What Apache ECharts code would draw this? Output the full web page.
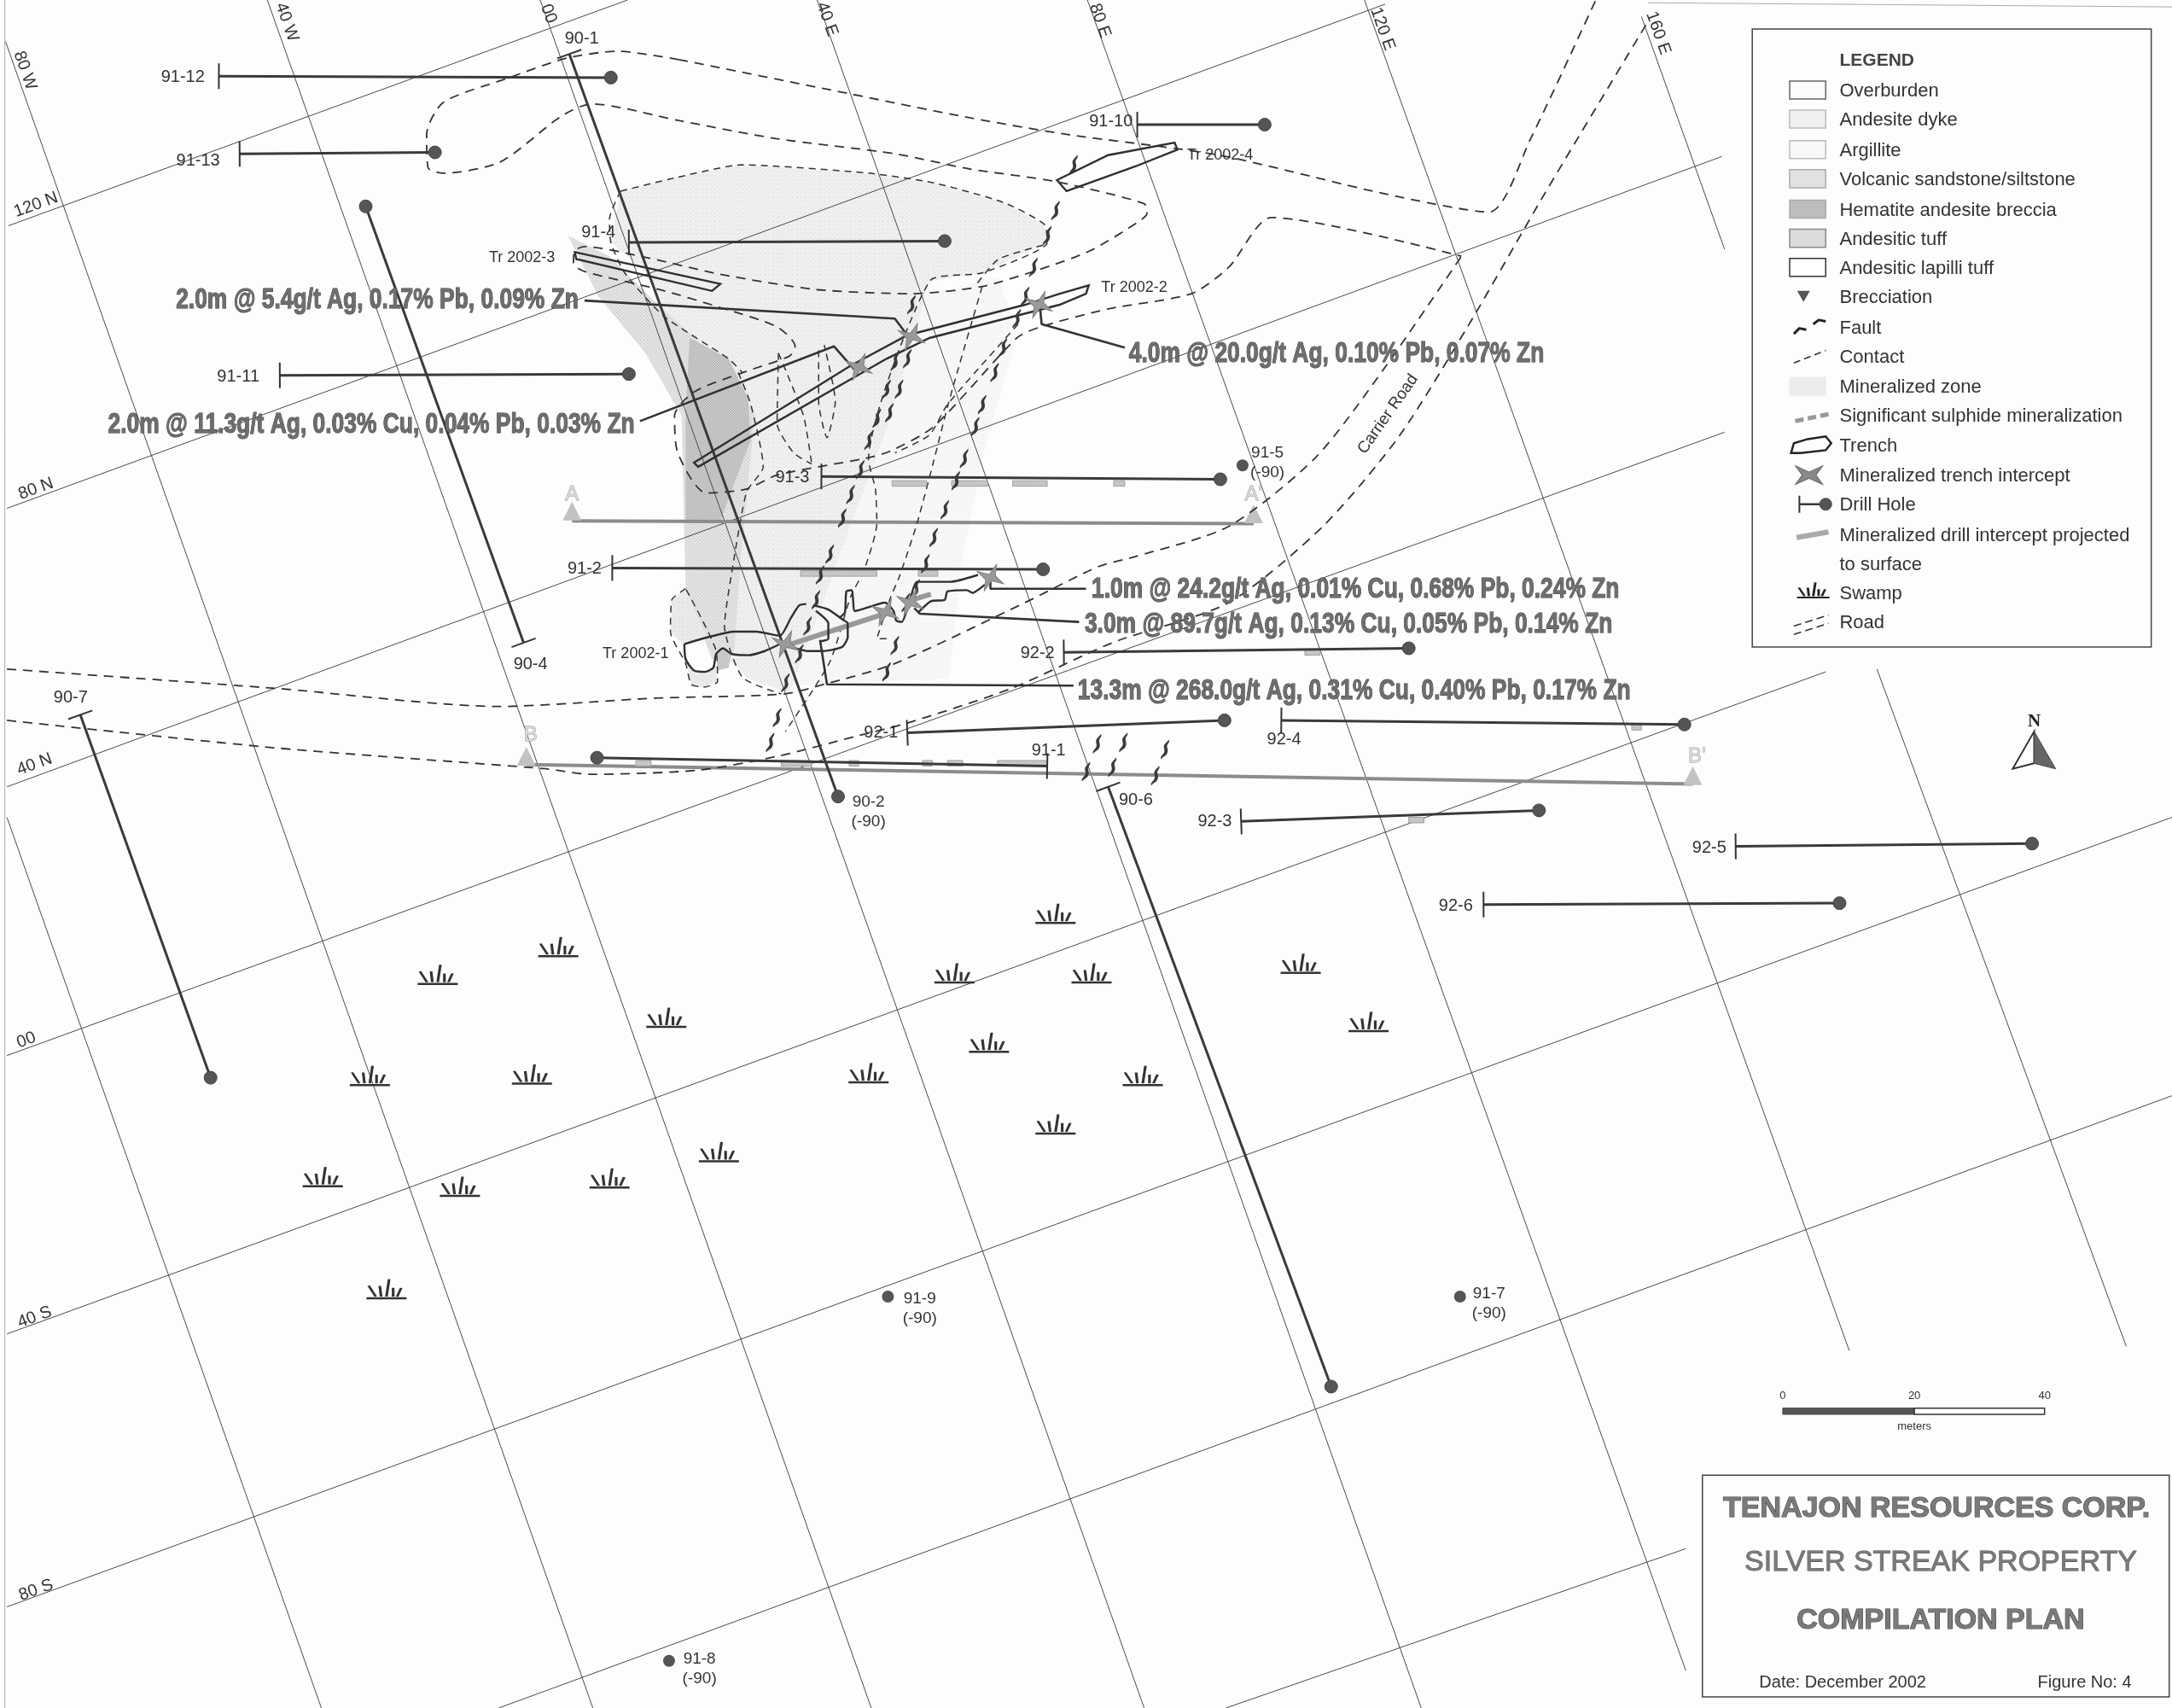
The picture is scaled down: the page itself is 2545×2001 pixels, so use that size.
<!DOCTYPE html>
<html><head><meta charset="utf-8">
<style>html,body{margin:0;padding:0;background:#fdfdfd}#c{width:2545px;height:2001px}</style>
<script src="https://cdn.jsdelivr.net/npm/echarts@6/dist/echarts.min.js"></script>
</head><body><div id="c"></div>
<script>
// ---- survey grid
const gridNS = [[[4,30],[428,1233]],[[193,0],[629,1233]],[[390,0],[826,1233]],[[590,0],[1026,1233]],[[785,0],[1217,1206]],[[985,0],[1335,975]],[[1185,12],[1245,180]],[[1355,483],[1535,972]],[[5,590],[232,1233]]];
const gridEW = [[[6,163],[453,0]],[[5,367],[1000,3]],[[5,568],[1243,113]],[[5,762],[1245,312]],[[5,963],[1318,485]],[[5,1160],[1568,590]],[[360,1233],[1568,791]],[[885,1233],[1217,1118]]];
const sheetEdges = [[[3.5,0],[3.5,1233]],[[1190,2],[1568,5]]];
const gridNSLabels = ['80 W','40 W','00','40 E','80 E','120 E','160 E'];
const gridNSLabelAt = [[18,50],[207,15],[396,9],[597,13],[794,14],[998,20],[1197,23]];
const gridEWLabels = ['120 N','80 N','40 N','00','40 S','80 S'];
const gridEWLabelAt = [[26,147],[26,352],[25,551],[19,750],[25,950],[26,1147]];
// ---- geology
const zoneFaint = [[560,495],[685,490],[695,400],[712,320],[735,240],[720,200],[660,215],[600,280],[560,400]];
const zoneLight = [[448,138],[489,128],[536,119],[627,125],[674,132],[724,146],[754,162],[756,175],[709,197],[671,203],[640,310],[610,390],[594,435],[570,500],[540,490],[510,460],[495,300],[470,200],[441,175]];
const zoneMid = [[410,170],[440,185],[470,215],[530,270],[545,300],[535,400],[530,470],[514,476],[495,425],[492,300],[466,255],[432,214]];
const zoneDark = [[498,244],[526,259],[540,287],[542,318],[533,341],[520,376],[495,376],[495,296]];
const zoneSmall = [[[494,470],[499,495],[507,496],[518,492],[517,480],[510,486],[500,484]],[[495,425],[485,433],[484,456],[494,466],[510,460]]];
const zoneBlob = [[517,472],[522,468],[528,472],[526,482],[518,484]];
const contactLoop = [[490,43],[446,37],[409,42],[365,57],[320,74],[308,97],[309,121],[320,125],[361,117],[405,84],[427,75],[490,87],[560,100],[646,111],[700,122],[762,131],[826,147],[828,154],[822,160],[787,181],[749,195],[708,207],[658,212],[589,209],[520,198],[467,186],[422,178],[415,181],[414,190],[422,196],[476,209],[520,222],[561,236],[574,250],[570,257],[536,269],[501,283],[487,300],[489,326],[510,356],[539,353],[561,343],[624,331],[642,326],[674,308],[734,244],[751,236],[800,223],[860,212],[887,193],[918,157],[1055,185]];
const contactUpper = [[490,43],[600,65],[700,85],[770,97],[880,112],[1000,140],[1075,153],[1105,100],[1152,0]];
const roadA = [[5,483],[200,497],[360,510],[473,504],[566,501],[595,494],[646,479],[740,435],[793,409],[819,402],[887,380],[950,330],[1000,265],[1055,185]];
const roadB = [[5,520],[200,540],[394,555],[426,559],[504,556],[561,546],[620,531],[655,522],[730,497],[803,464],[887,435],[955,380],[1010,315],[1060,235],[1115,140],[1190,15]];
const contactsInner = [
 [[448,138],[489,128],[536,119],[627,125],[674,132],[724,146],[754,162],[756,175],[709,197],[671,203],[627,332],[632,353],[633,378],[624,411],[614,431],[599,478],[567,528]],
 [[709,207],[685,290],[674,333],[662,378],[649,417],[643,431],[633,461],[642,461]],
 [[753,177],[721,187],[705,205]],
 [[735,234],[684,292],[671,314],[646,327]],
 [[533,269],[542,292],[551,337],[539,355],[529,409],[523,452],[536,489],[564,501]],
 [[562,255],[561,306],[573,327],[586,335]],
 [[562,255],[580,300],[586,335]],
 [[591,253],[591,290],[597,316],[603,290],[595,249]],
 [[448,138],[440,158],[441,175],[451,197],[479,228],[526,259],[536,269]],
 [[495,425],[485,433],[484,456],[495,479],[499,494],[508,496],[518,492],[517,470],[495,425]]
];
// ---- trenches
const trenches = [
 [[763,130],[800,112],[848,103],[850,108],[820,120],[770,138]],
 [[415,182],[520,205],[514,210],[416,187]],
 [[501,334],[614,264],[655,242],[740,220],[765,212],[786,206],[784,212],[765,220],[671,244],[640,259],[504,337]]
];
const trenchOpen = [
 [[494,465],[511,460],[530,456],[546,456],[563,459],[571,446],[577,437],[582,436]],
 [[494,465],[495,476],[501,484],[509,485],[515,482],[517,472],[522,468],[528,472],[540,473],[552,470],[565,464]],
 [[571,467],[583,470],[594,470],[608,467],[612,460],[612,450],[608,447],[598,440],[587,437]],
 [[589,441],[598,450],[598,461],[592,463]],
 [[606,446],[610,442],[611,427],[615,426],[616,435],[617,441],[639,435],[645,441],[647,448],[651,449],[657,433],[662,420],[686,420],[706,415]],
 [[663,442],[672,434],[682,433],[684,427],[698,426],[702,428],[711,422]]
];
const sulphideStrips = [[[571,465],[639,443]],[[655,434],[672,429]]];
const faultMarks = [[775,119],[762,152],[756,170],[746,193],[740,214],[734,230],[724,251],[718,269],[709,292],[704,308],[696,331],[690,347],[682,368],[674,388],[668,407],[661,425],[654,435],[646,466],[640,485],[658,220],[655,259],[646,261],[649,281],[640,281],[642,298],[633,302],[627,318],[621,339],[614,357],[608,374],[599,400],[592,415],[589,433],[583,452],[577,472],[567,493],[561,518],[556,536],[792,537],[811,536],[841,541],[784,557],[803,554],[834,560]];
const interceptMarks = [[620,265],[658,243],[750,220],[715,417],[657,435],[639,442],[567,465]];
// ---- drill holes
const holeNames = ['91-12','91-13','90-1','90-4','91-4','91-11','91-10','91-3','91-2','92-2','92-1','91-1','92-4','90-7','90-6','92-3','92-5','92-6'];
const holeCollars = [[158,55],[173,111],[411,39],[378,464],[454,175],[202,271],[821,90],[593,344],[442,410],[768,471],[655,529],[756,553],[925,520],[58,516],[800,568],[896,593],[1253,611],[1071,653]];
const holeEnds = [[441,56],[314,110],[605,575],[264,149],[682,174],[454,270],[913,90],[881,346],[753,411],[1017,468],[884,520],[431,547],[1216,523],[152,778],[961,1001],[1111,585],[1467,609],[1328,652]];
const holeLabelAt = [[132,55],[143,115],[420,27],[383,479],[432,167],[172,271],[802,87],[572,344],[422,410],[749,471],[636,528],[757,541],[927,533],[51,503],[820,577],[877,592],[1234,611],[1051,653]];
const collarNames = ['90-2\n(-90)','91-5\n(-90)','91-9\n(-90)','91-7\n(-90)','91-8\n(-90)'];
const collarPts = [[605,575],[897,336],[641,936],[1054,936],[483,1199]];
const collarLabelAt = [[627,585],[915,333],[664,944],[1075,940],[505,1204]];
const drillBars = [[644,669,347,351],[687,713,347,351],[731,756,347,351],[804,812,347,351],[578,633,412,416],[663,677,412,416],[459,470,549,553],[564,586,549,553],[613,620,549,553],[666,673,549,553],[684,695,549,553],[720,756,549,553],[942,953,469,473],[1178,1185,523,527],[1017,1028,590,594]];
// ---- sections
const sectionA = [[413,376],[905,378]];
const sectionB = [[380,552],[1222,566]];
const sectionEnds = [[413,369],[905,371],[380,546],[1222,560]];
const sectionNames = ['A',"A'",'B',"B'"];
const sectionLabelAt = [[413,356],[905,356],[383,530],[1225,545]];
// ---- callouts
const leaders = [
 [[422,217],[646,230],[655,242]],
 [[462,304],[602,250],[617,267]],
 [[812,251],[752,234],[751,224]],
 [[784,425],[715,425],[715,419]],
 [[779,449],[664,443],[660,439]],
 [[775,495],[597,494],[592,462]]
];
const assayText = ['2.0m @ 5.4g/t Ag, 0.17% Pb, 0.09% Zn','2.0m @ 11.3g/t Ag, 0.03% Cu, 0.04% Pb, 0.03% Zn','4.0m @ 20.0g/t Ag, 0.10% Pb, 0.07% Zn','1.0m @ 24.2g/t Ag, 0.01% Cu, 0.68% Pb, 0.24% Zn','3.0m @ 89.7g/t Ag, 0.13% Cu, 0.05% Pb, 0.14% Zn','13.3m @ 268.0g/t Ag, 0.31% Cu, 0.40% Pb, 0.17% Zn'];
const assayAt = [[127,216],[78,306],[815,255],[788,425],[783,450],[778,498]];
const trenchNames = ['Tr 2002-4','Tr 2002-3','Tr 2002-2','Tr 2002-1'];
const trenchLabelAt = [[857,111],[353,185],[795,207],[435,471]];
const swamps = [[403,683.5],[316,703.5],[481,734.5],[267,776.5],[384,775.5],[233,849.5],[332,856.5],[440,850.5],[519,831.5],[279,930.5],[627,774.5],[689,702.5],[762,659.5],[788,702.5],[714,752.5],[825,776.5],[762,811.5],[939,695.5],[988,737.5]];
// ---- legend
const legendRows = ['Overburden','Andesite dyke','Argillite','Volcanic sandstone/siltstone','Hematite andesite breccia','Andesitic tuff','Andesitic lapilli tuff','Brecciation','Fault','Contact','Mineralized zone','Significant sulphide mineralization','Trench','Mineralized trench intercept','Drill Hole','Mineralized drill intercept projected','to surface','Swamp','Road'];
const legendRowY = [65,86,108,129,151,172,193,214,236,257,279,300,321,343,364,386,407,428,449];
const swatchRowsY = [65,86,108,129,151,172,193,279];
const swatchFill = ['#fbfbfb','#f0f0f0','#f8f8f8','#e2e2e2','#bdbdbd','#dcdcdc','#ffffff','#ececec'];
const swatchEdge = ['#666','#bbb','#bbb','#aaa','#aaa','#888','#333','#eee'];
// ---- title block
const titleLines = ['TENAJON RESOURCES CORP.','SILVER STREAK PROPERTY','COMPILATION PLAN'];
const scaleTicks = ['0','20','40'];
const scaleTickX = [1287,1382,1476];
const footerText = ['Date: December 2002','Figure No: 4'];
const footerAt = [[1270,1214],[1471,1214]];

const SANS='"Liberation Sans",Arial,sans-serif';
// paper-like grain for the shaded zones: a fixed repeating tile, no data involved
function grain(light,dark,every){const c=document.createElement('canvas');c.width=c.height=48;const g=c.getContext('2d');
 g.fillStyle=light;g.fillRect(0,0,48,48);g.fillStyle=dark;
 for(let y=0;y<48;y++)for(let x=0;x<48;x++){if(((x*7+y*13+x*y*3)%every)===0)g.fillRect(x,y,1,1);}
 return {image:c,repeat:'repeat'};}
const idx=a=>a.map((_,i)=>[i,0]);
const base={animation:false,silent:true,coordinateSystem:'cartesian2d',xAxisIndex:0,yAxisIndex:0};
function poly(pts,o){return Object.assign({},base,{type:'line',data:pts,showSymbol:false,symbol:'none',
  lineStyle:{color:o.c||'#333',width:o.w||2,type:o.t||'solid'},smooth:o.s||false,z:o.z==null?3:o.z});}
function custom(arr,fn,z){return Object.assign({},base,{type:'custom',data:idx(arr),z:z==null?3:z,clip:false,
  renderItem:(p,api)=>fn(arr[p.dataIndex],api,p.dataIndex)});}
function polys(arr,style,z){return custom(arr,(pts,api)=>({type:'polygon',shape:{points:pts.map(q=>api.coord(q))},style}),z);}
function texts(names,at,o){return custom(names,(t,api,i)=>{const p=api.coord(at[i]);
  return {type:'text',x:p[0],y:p[1]+1.5,scaleX:o.sx||1,rotation:(o.rot||0)*Math.PI/180,z2:10,style:{text:t,font:o.font,fill:o.fill||'#333',stroke:o.stroke,lineWidth:o.lw||0,align:o.align||'center',verticalAlign:'middle',lineHeight:o.lh}};},o.z||12);}
function holes(cols,ends,ballR,tick,w){return custom(cols,(c,api,i)=>{const a=api.coord(c),b=api.coord(ends[i]);
  const dx=b[0]-a[0],dy=b[1]-a[1],L=Math.hypot(dx,dy)||1,nx=-dy/L*tick,ny=dx/L*tick;
  return {type:'group',children:[
   {type:'line',shape:{x1:a[0],y1:a[1],x2:b[0],y2:b[1]},style:{stroke:'#3a3a3a',lineWidth:w}},
   {type:'line',shape:{x1:a[0]-nx,y1:a[1]-ny,x2:a[0]+nx,y2:a[1]+ny},style:{stroke:'#333',lineWidth:2}},
   {type:'circle',shape:{cx:b[0],cy:b[1],r:ballR},style:{fill:'#555',stroke:'#444',lineWidth:1}}]};},6);}
const squiggle='path://M1 24C-1 20 5 18 5 14C5 10 3 8 6 5C7 3 9 2 10 0C12 3 8 5 8 8C8 11 10 13 8 17C7 20 3 21 1 24Z';
const swampPath='path://M0 14H30M0 14.6H30M1.7 4.9L7 13M10 5L11 13M17 0L15 13M20 6.5L20 13M26 6.5L23 13';
const bowtie='path://M0 0L12 8L24 0L18 12L24 24L12 16L0 24L6 12Z';
function marks(pts,sym,size,o){return Object.assign({},base,{type:'scatter',data:pts,symbol:sym,symbolSize:size,symbolRotate:o.rot||0,
  itemStyle:{color:o.c,opacity:1,borderColor:o.bc,borderWidth:o.bw||0},z:o.z||5});}

const series=[];
series.push(polys([zoneFaint],{fill:grain('#f8f8f8','#efefef',5)},0));
series.push(polys([zoneLight],{fill:grain('#f1f1f1','#dcdcdc',5)},0));
series.push(polys([zoneMid],{fill:grain('#e2e2e2','#c4c4c4',4)},0));
series.push(polys([zoneDark],{fill:grain('#cfcfcf','#a8a8a8',3)},0));
series.push(polys(zoneSmall,{fill:grain('#ececec','#d8d8d8',5)},0));
series.push(polys([zoneBlob],{fill:'#c8c8c8'},0));
gridNS.concat(gridEW).forEach(l=>series.push(poly(l,{c:'#4a4a4a',w:1,z:1})));
sheetEdges.forEach(l=>series.push(poly(l,{c:'#aaa',w:1,z:1})));
[contactLoop,contactUpper,roadA,roadB].forEach(l=>series.push(poly(l,{c:'#333',w:1.8,t:[11,8],s:0.25,z:3})));
contactsInner.forEach(l=>series.push(poly(l,{c:'#333',w:1.5,t:[8,6],s:0.2,z:3})));
series.push(poly(sectionA,{c:'#8c8c8c',w:4,z:2}));
series.push(poly(sectionB,{c:'#8c8c8c',w:4,z:2}));
series.push(marks(sectionEnds,'triangle',[22,22],{c:'#c2c2c2',z:2}));
series.push(texts(sectionNames,sectionLabelAt,{font:'24px '+SANS,fill:'#d8d8d8',stroke:'#999',lw:0.8}));
series.push(custom(drillBars,(b,api)=>{const p=api.coord([b[0],b[2]]),q=api.coord([b[1],b[3]]);
  return {type:'rect',shape:{x:p[0],y:p[1],width:q[0]-p[0],height:q[1]-p[1]},style:{fill:'#c6c6c6',stroke:'#a0a0a0',lineWidth:1}};},4));
series.push(holes(holeCollars,holeEnds,7.5,15,3));
series.push(marks(collarPts,'circle',[14,14],{c:'#555',z:6}));
series.push(polys(trenches,{fill:'none',stroke:'#2f2f2f',lineWidth:2.4},7));
trenchOpen.forEach(l=>series.push(poly(l,{c:'#2f2f2f',w:2.4,s:0.2,z:7})));
sulphideStrips.forEach(l=>series.push(poly(l,{c:'#999',w:6,z:6})));
series.push(marks(faultMarks,squiggle,[10,23],{c:'#3a3a3a',z:7}));
series.push(marks(interceptMarks,bowtie,[24,24],{c:'#9a9a9a',bc:'#808080',bw:1,rot:20,z:8}));
leaders.forEach(l=>series.push(poly(l,{c:'#333',w:2.6,z:8})));
series.push(marks(swamps,swampPath,[47,23],{c:'none',bc:'#333',bw:2.2,z:5}));
// labels
series.push(texts(gridNSLabels,gridNSLabelAt,{font:'20px '+SANS,rot:-70.5}));
series.push(texts(gridEWLabels,gridEWLabelAt,{font:'20px '+SANS,rot:20}));
series.push(texts(holeNames,holeLabelAt,{font:'20px '+SANS}));
series.push(texts(collarNames,collarLabelAt,{font:'19px '+SANS,lh:23}));
series.push(texts(trenchNames,trenchLabelAt,{font:'18px '+SANS,align:'left'}));
series.push(texts(['Carrier Road'],[[1002,298]],{font:'19px '+SANS,rot:55}));
series.push(texts(assayText,assayAt,{font:'bold 33px '+SANS,sx:0.8,align:'left',fill:'#6e6e6e',stroke:'#333',lw:1}));
// legend
const box=(x0,y0,x1,y1)=>[[x0,y0],[x1,y0],[x1,y1],[x0,y1]];
series.push(polys([box(1265,21,1553,467)],{fill:'#fdfdfd',stroke:'#444',lineWidth:1.5},20));
series.push(custom(swatchRowsY,(y,api,i)=>{const p=api.coord([1292,y-6.5]),q=api.coord([1318,y+6.5]);
  return {type:'rect',shape:{x:p[0],y:p[1],width:q[0]-p[0],height:q[1]-p[1]},style:{fill:swatchFill[i],stroke:swatchEdge[i],lineWidth:1.5}};},21));
series.push(texts(['LEGEND'],[[1328,43]],{font:'bold 21px '+SANS,align:'left',fill:'#444',z:22}));
series.push(texts(legendRows,legendRowY.map(y=>[1328,y]),{font:'22px '+SANS,align:'left',fill:'#333',z:22}));
series.push(marks([[1302,214]],'triangle',[15,13],{c:'#555',rot:180,z:22}));
series.push(poly([[1295,241],[1299,237],[1304,238]],{c:'#222',w:3,z:22}));
series.push(poly([[1309,234],[1313,231],[1318,232]],{c:'#222',w:3,z:22}));
series.push(poly([[1295,262],[1318,253]],{c:'#333',w:1.6,t:[8,5],z:22}));
series.push(poly([[1296,304],[1320,299]],{c:'#999',w:5,t:[10,5],z:22}));
series.push(polys([[[1293,327],[1295,320],[1305,317],[1318,315],[1322,320],[1318,325],[1300,327]]],{fill:'none',stroke:'#222',lineWidth:2.4},22));
series.push(marks([[1306,343]],bowtie,[32,22],{c:'#888',bc:'#666',bw:1,z:22}));
series.push(Object.assign(holes([[1299,364]],[[1318,364]],7,10,2.5),{z:22}));
series.push(poly([[1297,388],[1320,384]],{c:'#aaa',w:6,z:22}));
series.push(marks([[1309,426]],swampPath,[38,18],{c:'none',bc:'#222',bw:2,z:22}));
series.push(poly([[1295,452],[1320,444]],{c:'#333',w:1.6,t:[9,5],z:22}));
series.push(poly([[1295,458],[1320,450]],{c:'#333',w:1.6,t:[9,5],z:22}));
// north arrow
series.push(polys([[[1468.5,528],[1453,555],[1468.5,551]]],{fill:'#fff',stroke:'#333',lineWidth:2},5));
series.push(polys([[[1468.5,528],[1484,555],[1468.5,551]]],{fill:'#666',stroke:'#444',lineWidth:1},5));
series.push(texts(['N'],[[1468.5,520]],{font:'bold 21px "Liberation Serif",serif',fill:'#222'}));
// scale bar
series.push(polys([box(scaleTickX[0],1016.5,scaleTickX[1],1021)],{fill:'#555',stroke:'#444',lineWidth:1},5));
series.push(polys([box(scaleTickX[1],1016.5,scaleTickX[2],1021)],{fill:'#fff',stroke:'#333',lineWidth:1.5},5));
series.push(texts(scaleTicks,scaleTickX.map(x=>[x,1007]),{font:'13px '+SANS}));
series.push(texts(['meters'],[[1382,1029]],{font:'13px '+SANS}));
// title block
series.push(polys([box(1229,1065,1566,1225)],{fill:'#fdfdfd',stroke:'#444',lineWidth:1.5},20));
series.push(texts([titleLines[0]],[[1398,1088]],{font:'bold 34px '+SANS,fill:'#7a7a7a',stroke:'#333',lw:1,z:22}));
series.push(texts([titleLines[1]],[[1401,1127]],{font:'34px '+SANS,fill:'#7a7a7a',stroke:'#444',lw:0.8,z:22}));
series.push(texts([titleLines[2]],[[1401,1169]],{font:'bold 34px '+SANS,fill:'#7a7a7a',stroke:'#333',lw:1,z:22}));
series.push(texts(footerText,footerAt,{font:'20px '+SANS,align:'left',z:22}));

const chart=echarts.init(document.getElementById('c'),null,{renderer:'canvas',width:2545,height:2001});
chart.setOption({animation:false,backgroundColor:'#fdfdfd',
 grid:{left:0,right:0,top:0,bottom:0},
 xAxis:{type:'value',min:0,max:1568,show:false},
 yAxis:{type:'value',min:0,max:1233,inverse:true,show:false},
 tooltip:{show:false},series});
</script></body></html>
